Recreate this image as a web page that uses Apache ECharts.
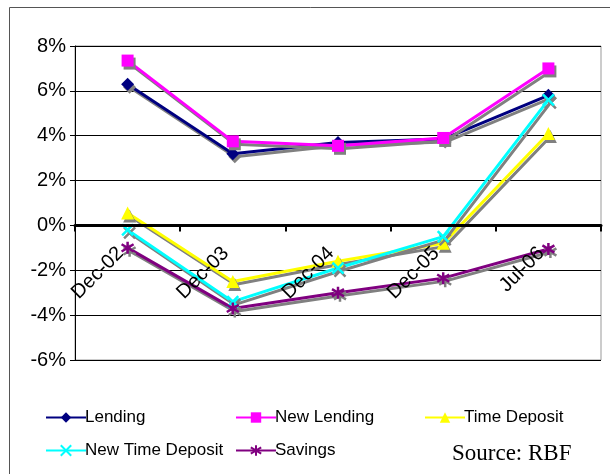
<!DOCTYPE html>
<html><head><meta charset="utf-8">
<script src="https://cdn.jsdelivr.net/npm/echarts@6/dist/echarts.min.js"></script>
<style>html,body{margin:0;padding:0;background:#fff}#c{width:610px;height:474px}</style>
</head><body><div id="c"></div>
<script>
var categories = ['Dec-02', 'Dec-03', 'Dec-04', 'Dec-05', 'Jul-06'];
var lending = [6.3, 3.2, 3.7, 3.85, 5.8];
var newLending = [7.35, 3.75, 3.55, 3.9, 7.0];
var timeDeposit = [0.55, -2.5, -1.6, -0.8, 4.1];
var newTimeDeposit = [-0.2, -3.4, -1.9, -0.5, 5.6];
var savings = [-1.0, -3.7, -3.0, -2.35, -1.05];
var yTicks = {min: -6, max: 8, interval: 2};

var FONT = '"Liberation Sans", Arial, sans-serif';
var shadow = {shadowColor: '#808080', shadowBlur: 0, shadowOffsetX: 2, shadowOffsetY: 3};
var xPath = 'path://M0,0 L10,10 M10,0 L0,10';
var starPath = 'path://M5,0 L5,10 M0,2 L10,8 M0,8 L10,2';

var GRID_TOP = 46, GRID_BOTTOM = 114, H = 474;
var plotH = H - GRID_TOP - GRID_BOTTOM;
var zeroOffset = -plotH * (0 - yTicks.min) / (yTicks.max - yTicks.min);

function mk(name, data, color, symbol, size, stroke) {
  var item = stroke ? Object.assign({color: 'rgba(0,0,0,0)', borderColor: color, borderWidth: 2.5}, shadow)
                    : Object.assign({color: color, borderWidth: 0}, shadow);
  return {
    name: name, type: 'line', data: data, symbol: symbol, symbolSize: size,
    showSymbol: true, animation: false,
    lineStyle: Object.assign({color: color, width: 3}, shadow),
    itemStyle: item, z: 3
  };
}

var chart = echarts.init(document.getElementById('c'), null, {renderer: 'canvas'});
chart.setOption({
  backgroundColor: '#fff',
  animation: false,
  grid: {left: 75, right: 9, top: GRID_TOP, bottom: GRID_BOTTOM, show: true, borderColor: '#999', borderWidth: 1, backgroundColor: '#fff'},
  xAxis: {
    type: 'category', data: categories, boundaryGap: true, offset: zeroOffset, z: 10,
    axisLine: {onZero: false, lineStyle: {color: '#000', width: 3}},
    axisTick: {show: true, alignWithLabel: false, length: 6, lineStyle: {color: '#000', width: 2}},
    axisLabel: {rotate: 45, margin: 32, verticalAlign: 'bottom', color: '#000', fontFamily: FONT, fontSize: 20, interval: 0, hideOverlap: false},
    splitLine: {show: false}
  },
  yAxis: {
    type: 'value', min: yTicks.min, max: yTicks.max, interval: yTicks.interval,
    axisLine: {show: true, lineStyle: {color: '#000', width: 1}},
    axisTick: {show: true, length: 5, lineStyle: {color: '#000'}},
    axisLabel: {formatter: '{value}%', color: '#000', fontFamily: FONT, fontSize: 20, margin: 9},
    splitLine: {show: true, lineStyle: {color: '#000', width: 1}}
  },
  legend: [
    {left: 40, top: 404, orient: 'vertical', itemGap: 16, itemWidth: 40, itemHeight: 13,
     textStyle: {fontFamily: FONT, fontSize: 17, color: '#000', padding: [0, 0, 0, -6]},
     data: ['Lending', 'New Time Deposit']},
    {left: 230, top: 404, orient: 'vertical', itemGap: 16, itemWidth: 40, itemHeight: 13,
     textStyle: {fontFamily: FONT, fontSize: 17, color: '#000', padding: [0, 0, 0, -6]},
     data: ['New Lending', 'Savings']},
    {left: 419, top: 404, orient: 'vertical', itemGap: 16, itemWidth: 40, itemHeight: 13,
     textStyle: {fontFamily: FONT, fontSize: 17, color: '#000', padding: [0, 0, 0, -6]},
     data: ['Time Deposit']}
  ],
  graphic: [
    {type: 'rect', left: 7, top: 5, shape: {width: 640, height: 520}, style: {fill: 'none', stroke: '#555', lineWidth: 1}, z: -10, silent: true},
    {type: 'text', left: 452, top: 442, style: {text: 'Source: RBF', font: '23px "Liberation Serif", "Times New Roman", serif', fill: '#000'}, z: 10}
  ],
  series: [
    mk('Lending', lending, '#000080', 'diamond', 13, false),
    mk('New Lending', newLending, '#FF00FF', 'rect', 12, false),
    mk('Time Deposit', timeDeposit, '#FFFF00', 'triangle', 13, false),
    mk('New Time Deposit', newTimeDeposit, '#00FFFF', xPath, 11, true),
    mk('Savings', savings, '#800080', starPath, 12, true)
  ]
});
</script></body></html>
